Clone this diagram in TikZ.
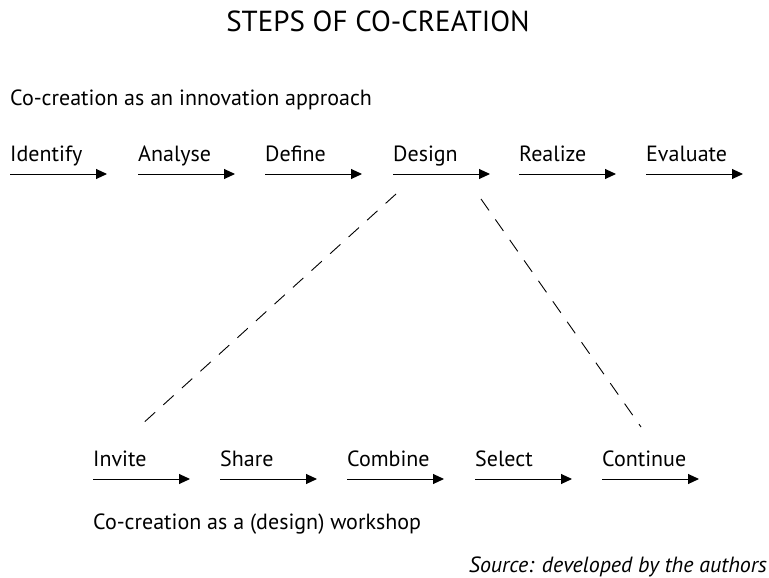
\documentclass[tikz,border=0pt]{standalone}
\usepackage{fontspec}
\setmainfont{PT Sans}
\usetikzlibrary{arrows.meta}
\begin{document}
\begin{tikzpicture}[x=1pt,y=-1pt,
  lbl/.style={anchor=base west,inner sep=0pt,font=\fontsize{22}{26}\selectfont},
  steparrow/.style={-{Triangle[length=11pt,width=10pt]},line width=1pt},
  dash line/.style={dash pattern=on 14pt off 11pt,line width=0.9pt}]
\useasboundingbox (0,0) rectangle (769,578);
\node[anchor=base,inner sep=0pt,font=\fontsize{29}{34}\selectfont] (title) at (378,32) {STEPS OF CO-CREATION};
\node[lbl] (top) at (10,106) {Co-creation as an innovation approach};
\node[lbl] (bot) at (93,529) {Co-creation as a (design) workshop};
\node[anchor=base east,inner sep=0pt,font=\fontsize{22}{26}\selectfont\itshape] (src) at (767,572) {Source: developed by the authors};
% top row
\foreach \n/\t/\x in {a/Identify/10,b/Analyse/138,c/Define/265,d/Design/393,e/Realize/519,f/Evaluate/646}{
  \node[lbl] (\n) at (\x,161) {\t};
  \coordinate (\n s) at (\x,174);
  \coordinate (\n e) at (\x+97,174);
  \draw[steparrow] (\n s) -- (\n e);
}
% bottom row
\foreach \n/\t/\x in {g/Invite/93,h/Share/220,i/Combine/347,j/Select/475,k/Continue/602}{
  \node[lbl] (\n) at (\x,466) {\t};
  \coordinate (\n s) at (\x,479);
  \coordinate (\n e) at (\x+97,479);
  \draw[steparrow] (\n s) -- (\n e);
}
\coordinate (d1) at (396,194);
\coordinate (g1) at (140,426);
\coordinate (d2) at (481,199);
\coordinate (k1) at (641,427);
\draw[dash line] (d1) -- (g1);
\draw[dash line] (d2) -- (k1);
\end{tikzpicture}
\end{document}
